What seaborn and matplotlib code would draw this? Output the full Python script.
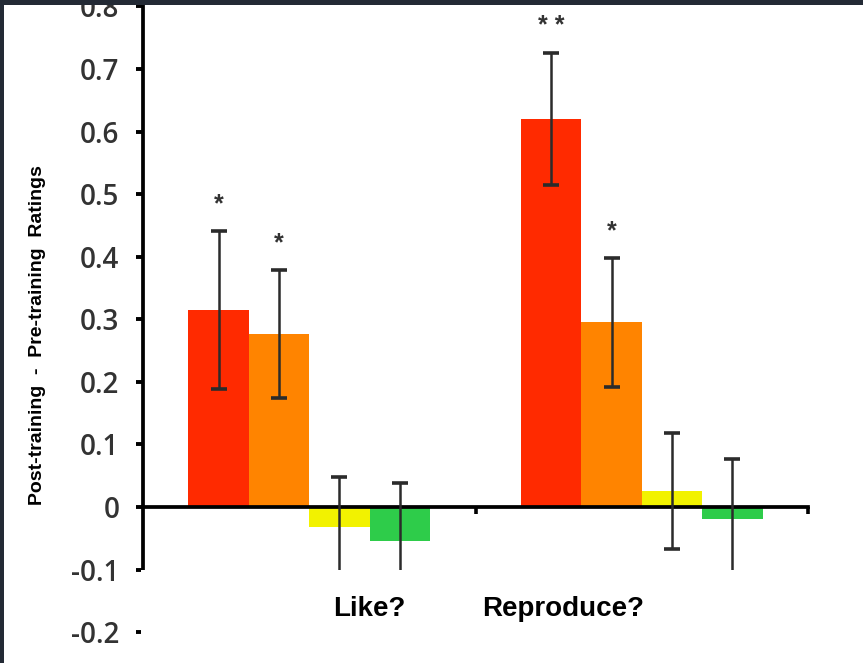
import numpy as np
import pandas as pd
import seaborn as sns
import matplotlib.pyplot as plt
from matplotlib.patches import Rectangle

# ---- data ----
groups = ["Like?", "Reproduce?"]
conditions = ["Cond 1", "Cond 2", "Cond 3", "Cond 4"]
values_like = [0.315, 0.276, -0.032, -0.055]
values_reproduce = [0.620, 0.295, 0.026, -0.020]
errors_like = [0.126, 0.102, 0.080, 0.094]
errors_reproduce = [0.105, 0.103, 0.093, 0.096]
stars_like = ["*", "*", "", ""]
stars_reproduce = ["**", "*", "", ""]
ytick_values = [-0.2, -0.1, 0.0, 0.1, 0.2, 0.3, 0.4, 0.5, 0.6, 0.7, 0.8]
ytick_labels = ["-0.2", "-0.1", "0", "0.1", "0.2", "0.3", "0.4", "0.5", "0.6", "0.7", "0.8"]
ylabel = "Post-training  -  Pre-training  Ratings"
colors = ["#ff2a00", "#ff8400", "#f2f200", "#2ecc4a"]

df = pd.DataFrame({
    "group": [g for g in groups for _ in conditions],
    "condition": conditions * len(groups),
    "value": values_like + values_reproduce,
})
errs = {"Like?": errors_like, "Reproduce?": errors_reproduce}
vals = {"Like?": values_like, "Reproduce?": values_reproduce}
stars = {"Like?": stars_like, "Reproduce?": stars_reproduce}

sns.set_style("white")
plt.rcParams["font.family"] = ["Liberation Sans", "DejaVu Sans"]

W, H = 863, 663
fig = plt.figure(figsize=(W / 100, H / 100), dpi=100, facecolor="white")
ax = fig.add_axes([143 / W, (H - 632.1) / H, (808 - 143) / W, (632.1 - 6.4) / H])
ax.set_facecolor("none")

sns.barplot(data=df, x="group", y="value", hue="condition", palette=colors,
            width=0.727, gap=0, errorbar=None, saturation=1, linewidth=0,
            legend=False, ax=ax, zorder=2)

bar_containers = list(ax.containers)
for ci, cont in enumerate(bar_containers):
    for gi, bar in enumerate(list(cont)):
        g = groups[gi]
        x = bar.get_x() + bar.get_width() / 2
        v = vals[g][ci]
        e = errs[g][ci]
        ax.errorbar(x, v, yerr=e, fmt="none", ecolor="#2b2b2b", elinewidth=1.8,
                    capsize=5.5, capthick=2.6, zorder=4)
        s = stars[g][ci]
        if s:
            ax.text(x, v + e + 0.043, " ".join(s), ha="center", va="center",
                    fontsize=18, fontweight="bold", color="#333333", zorder=5)

ax.set_xlim(-0.5, 1.5)
ax.set_ylim(-0.2, 0.8)
ax.set_xticks([0.5, 1.5])
ax.set_xticklabels(["", ""])
ax.set_xlabel("")
ax.set_ylabel("")
ax.set_yticks(ytick_values)
ax.set_yticklabels(ytick_labels, family="Open Sans", fontsize=20,
                   fontweight="semibold", color="#333333")

for side in ["top", "right"]:
    ax.spines[side].set_visible(False)
ax.spines["bottom"].set_position(("data", 0))
for side in ["left", "bottom"]:
    ax.spines[side].set_linewidth(2.7)
    ax.spines[side].set_color("black")
    ax.spines[side].set_zorder(3)

ax.tick_params(axis="y", direction="out", length=5, width=2.8, pad=12, color="black", left=True)
ax.tick_params(axis="x", direction="out", length=5, width=2.6, color="black", bottom=True)

# y label
fig.text(38 / W, (H - 335) / H, ylabel, rotation=90, ha="center", va="center",
         fontsize=14, fontweight="bold", color="black")

# white box covering lower part
fig.add_artist(Rectangle((140.5 / W, 0), (805 - 140.5) / W, (H - 570) / H,
                         transform=fig.transFigure, facecolor="white",
                         edgecolor="none", zorder=5))
label_x = [369, 563]
for g, lx in zip(groups, label_x):
    fig.text(lx / W, (H - 609) / H, g, ha="center", va="center", fontsize=20,
             fontweight="bold", color="black", zorder=6)

# dark slide border
dark = "#232a35"
fig.add_artist(Rectangle((0, (H - 5) / H), 1, 5 / H, transform=fig.transFigure,
                         facecolor=dark, edgecolor="none", zorder=10))
fig.add_artist(Rectangle((0, 0), 4 / W, 1, transform=fig.transFigure,
                         facecolor=dark, edgecolor="none", zorder=10))

fig.savefig("out.png", dpi=100, facecolor=fig.get_facecolor())
